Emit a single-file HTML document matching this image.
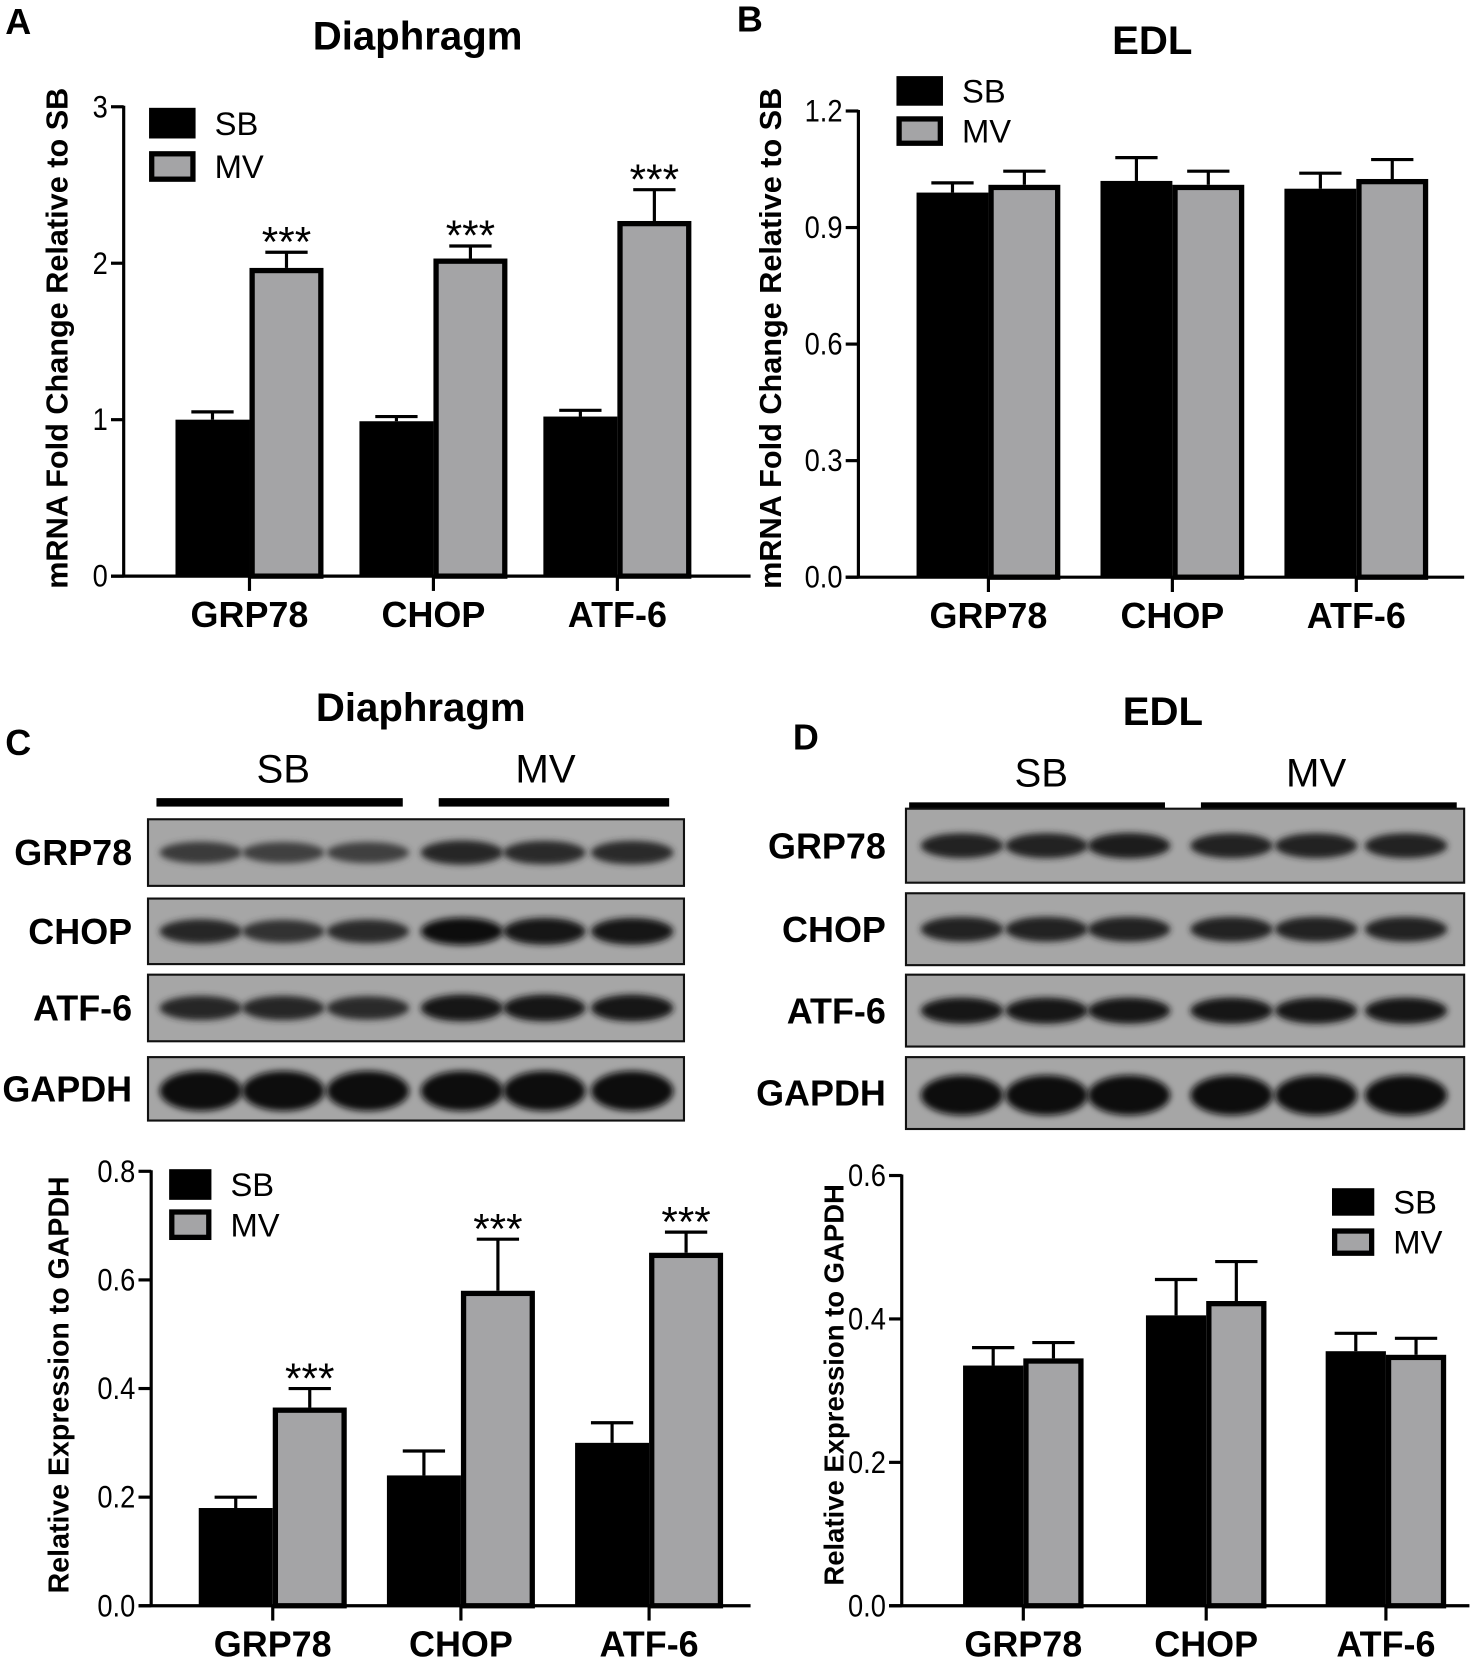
<!DOCTYPE html>
<html><head><meta charset="utf-8"><style>
html,body{margin:0;padding:0;background:#fff}
svg{display:block}
text{font-family:"Liberation Sans",Arial,sans-serif;fill:#000}
.b{font-weight:bold}
</style></head><body>
<svg id="fig" width="1480" height="1660" viewBox="0 0 1400 1570.3" preserveAspectRatio="none" xmlns="http://www.w3.org/2000/svg">
<defs><filter id="blur" x="-20%" y="-50%" width="140%" height="200%"><feGaussianBlur stdDeviation="3"/></filter></defs>
<g id="root"></g>
</svg>
<script>
// ---- data ----
const categories = ["GRP78","CHOP","ATF-6"];
const aSB = [1.00, 0.99, 1.02];
const aSBerr = [0.05, 0.03, 0.04];
const aMV = [1.97, 2.03, 2.27];
const aMVerr = [0.10, 0.08, 0.20];
const aTicks = ["0","1","2","3"];
const bSB = [0.99, 1.02, 1.00];
const bSBerr = [0.025, 0.06, 0.04];
const bMV = [1.01, 1.01, 1.025];
const bMVerr = [0.035, 0.035, 0.05];
const bTicks = ["0.0","0.3","0.6","0.9","1.2"];
const cSB = [0.18, 0.24, 0.30];
const cSBerr = [0.02, 0.045, 0.037];
const cMV = [0.365, 0.58, 0.65];
const cMVerr = [0.035, 0.095, 0.038];
const cTicks = ["0.0","0.2","0.4","0.6","0.8"];
const dSB = [0.335, 0.405, 0.355];
const dSBerr = [0.025, 0.05, 0.025];
const dMV = [0.345, 0.425, 0.35];
const dMVerr = [0.022, 0.055, 0.023];
const dTicks = ["0.0","0.2","0.4","0.6"];
const aSig = [true,true,true];
const cSig = [true,true,true];
const blotRows = ["GRP78","CHOP","ATF-6","GAPDH"];
const cBandStrength = [[0.55,0.5,0.5,0.75,0.7,0.7],[0.75,0.65,0.7,1,0.95,0.95],[0.75,0.75,0.7,0.95,0.95,0.95],[1,1,1,1,1,1]];
const dBandStrength = [[0.8,0.8,0.85,0.8,0.8,0.8],[0.8,0.8,0.8,0.8,0.8,0.8],[0.9,0.9,0.9,0.9,0.9,0.9],[1,1,1,1,1,1]];

const NS="http://www.w3.org/2000/svg";
const root=document.getElementById('root');
function mk(tag,attrs,parent,txt){const e=document.createElementNS(NS,tag);for(const k in attrs)e.setAttribute(k,attrs[k]);if(txt!==undefined)e.textContent=txt;(parent||root).appendChild(e);return e;}

function chart(o){
  const g=mk('g',{});
  
  
  const y=v=>o.y0-(v/o.max)*(o.y0-o.ytop);
  const ya=mk('line',{x1:o.x0,y1:o.ytop-1,x2:o.x0,y2:o.y0,stroke:'#000','stroke-width':3},g);
  
  const xa=mk('line',{x1:o.x0-12,y1:o.y0,x2:o.x1,y2:o.y0,stroke:'#000','stroke-width':3},g);
  
  o.ticks.forEach((t,i)=>{
    const v=o.max*i/(o.ticks.length-1);const yy=y(v);
    mk('line',{x1:o.x0-12,y1:yy,x2:o.x0,y2:yy,stroke:'#000','stroke-width':3},g);
    const tl=mk('text',{x:o.x0-15,y:yy+10,'text-anchor':'end','font-size':30,transform:`translate(${(o.x0-15)} 0) scale(0.86 1) translate(${-(o.x0-15)} 0)`},g,t);
    
  });
  categories.forEach((c,i)=>{
    const cx=o.centers[i];
    mk('line',{x1:cx,y1:o.y0,x2:cx,y2:o.y0+14,stroke:'#000','stroke-width':3},g);
    const cl=mk('text',{x:cx,y:o.y0+48,'text-anchor':'middle','font-size':34,class:'b'},g,c);
    
    const hs=y(o.sb[i]);
    const es=y(o.sb[i]+o.sbe[i]);
    mk('line',{x1:cx-o.w/2,y1:es,x2:cx-o.w/2,y2:hs,stroke:'#000','stroke-width':3},g);
    mk('line',{x1:cx-o.w/2-20,y1:es,x2:cx-o.w/2+20,y2:es,stroke:'#000','stroke-width':3},g);
    const bs=mk('rect',{x:cx-o.w,y:hs,width:o.w,height:o.y0-hs,fill:'#000'},g);
    
    const hm=y(o.mv[i]);
    const em=y(o.mv[i]+o.mve[i]);
    mk('line',{x1:cx+o.w/2,y1:em,x2:cx+o.w/2,y2:hm,stroke:'#000','stroke-width':3},g);
    mk('line',{x1:cx+o.w/2-20,y1:em,x2:cx+o.w/2+20,y2:em,stroke:'#000','stroke-width':3},g);
    const bm=mk('rect',{x:cx+2.5,y:hm+2.5,width:o.w-5,height:o.y0-hm-2.5,fill:'#a4a4a6',stroke:'#000','stroke-width':5},g);
    
    if(o.sig&&o.sig[i]){
      const st=mk('text',{x:cx+o.w/2,y:em+4,'text-anchor':'middle','font-size':40},g,'***');
      
    }
  });
  const lg=mk('g',{},g);
  mk('rect',{x:o.lx,y:o.ly,width:o.lw,height:o.lh,fill:'#000'},lg);
  mk('rect',{x:o.lx+2.5,y:o.ly+o.lgap+2.5,width:o.lw-5,height:o.lh-5,fill:'#a4a4a6',stroke:'#000','stroke-width':5},lg);
  const l1=mk('text',{x:o.lx+o.lw+18,y:o.ly+o.lh/2+11,'font-size':31},lg,'SB');
  
  const l2=mk('text',{x:o.lx+o.lw+18,y:o.ly+o.lgap+o.lh/2+11,'font-size':31},lg,'MV');
  
  const yl=mk('text',{x:o.ylx,y:o.ylc,'text-anchor':'middle','font-size':o.ylfs,class:'b',transform:`rotate(-90 ${o.ylx} ${o.ylc})`},g,o.ylabel);
  
}

function blot(o){
  const g=mk('g',{});
  const s1=mk('text',{x:o.sbx,y:o.hy,'text-anchor':'middle','font-size':38},g,'SB');
  
  const s2=mk('text',{x:o.mvx,y:o.hy,'text-anchor':'middle','font-size':38},g,'MV');
  
  mk('rect',{x:o.l1[0],y:o.hy+15,width:o.l1[1]-o.l1[0],height:8,fill:'#000'},g);
  mk('rect',{x:o.l2[0],y:o.hy+15,width:o.l2[1]-o.l2[0],height:8,fill:'#000'},g);
  blotRows.forEach((r,i)=>{
    const [ry,rh]=o.rows[i];
    const lab=mk('text',{x:o.labx,y:ry+rh/2+12,'text-anchor':'end','font-size':34,class:'b'},g,r);
    
    const box=mk('rect',{x:o.bx,y:ry,width:o.bw,height:rh,fill:'#a6a6a6',stroke:'#111','stroke-width':2},g);
    
    o.bands.forEach((bx,j)=>{
      const s=o.str[i][j];
      const hh=(r==='GAPDH'?38:14+12*s);
      const c=Math.round(110-95*s);
      mk('ellipse',{cx:bx,cy:ry+rh/2+(r==='GAPDH'?2:0),rx:39,ry:hh/2,fill:`rgb(${c},${c},${c})`,filter:'url(#blur)'},g);
    });
  });
}

[['A',5,32,34],['B',697,30,34],['C',5,714,34],['D',750,709,34]].forEach(p=>{
  const t=mk('text',{x:p[1],y:p[2],'font-size':p[3],class:'b'},root,p[0]);
  
});
[['Diaphragm',395,47],['EDL',1090,51],['Diaphragm',398,682],['EDL',1100,686]].forEach(p=>{
  const t=mk('text',{x:p[1],y:p[2],'text-anchor':'middle','font-size':38,class:'b'},root,p[0]);
  
});

chart({name:'chart-a',x0:117,x1:710,y0:545,ytop:101,max:3,ticks:aTicks,centers:[236,410,584],w:70,sb:aSB,sbe:aSBerr,mv:aMV,mve:aMVerr,sig:aSig,lx:141,ly:102,lw:44,lh:29,lgap:41,ylabel:'mRNA Fold Change Relative to SB',ylx:64,ylc:320,ylfs:29});
chart({name:'chart-b',x0:812,x1:1385,y0:546,ytop:105,max:1.2,ticks:bTicks,centers:[935,1109,1283],w:68,sb:bSB,sbe:bSBerr,mv:bMV,mve:bMVerr,sig:null,lx:848,ly:72,lw:44,lh:28,lgap:38,ylabel:'mRNA Fold Change Relative to SB',ylx:739,ylc:320,ylfs:29});
chart({name:'chart-c',x0:143,x1:710,y0:1519,ytop:1108,max:0.8,ticks:cTicks,centers:[258,436,614],w:70,sb:cSB,sbe:cSBerr,mv:cMV,mve:cMVerr,sig:cSig,lx:160,ly:1106,lw:40,lh:29,lgap:38,ylabel:'Relative Expression to GAPDH',ylx:65,ylc:1310,ylfs:27});
chart({name:'chart-d',x0:853,x1:1390,y0:1519,ytop:1112,max:0.6,ticks:dTicks,centers:[968,1141,1311],w:57,sb:dSB,sbe:dSBerr,mv:dMV,mve:dMVerr,sig:null,lx:1260,ly:1124,lw:40,lh:26,lgap:38,ylabel:'Relative Expression to GAPDH',ylx:798,ylc:1310,ylfs:26});

blot({name:'blot-c',sbx:268,mvx:516,hy:740,l1:[148,381],l2:[415,633],labx:125,bx:140,bw:507,
  rows:[[775,63],[850,62],[922,63],[1000,60]],bands:[190,268,348,437,515,598],str:cBandStrength});
blot({name:'blot-d',sbx:985,mvx:1245,hy:744,l1:[860,1102],l2:[1136,1378],labx:838,bx:857,bw:528,
  rows:[[765,70],[845,68],[922,68],[1000,68]],bands:[910,990,1068,1165,1245,1330],str:dBandStrength});
</script>
</body></html>
